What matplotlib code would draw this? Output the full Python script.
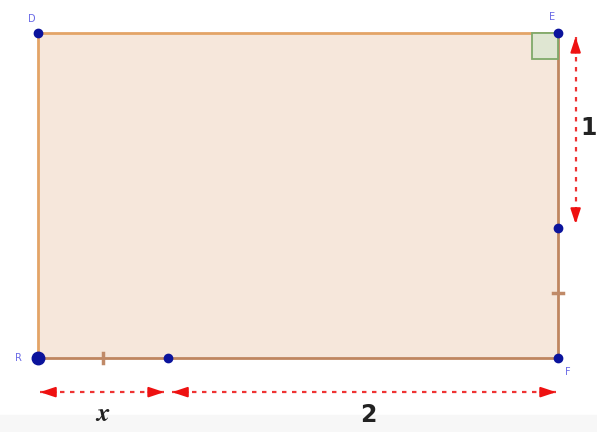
import numpy as np
import matplotlib.pyplot as plt
from matplotlib.patches import Rectangle

plt.rcParams['mathtext.fontset'] = 'stix'

# geometry in units: rectangle (2 + x) by (1 + x)
x = 0.667
base_len = 2
height_len = 1
point_names = ['R', 'F', 'E', 'D']
width = base_len + x
height = height_len + x
corners_x = [0, width, width, 0]
corners_y = [0, 0, height, height]
label_offsets = [(-0.1, 0.0), (0.05, -0.07), (-0.03, 0.08), (-0.03, 0.07)]

fig = plt.figure(figsize=(5.97, 4.32), dpi=100)
ax = fig.add_axes([0, 0, 1, 1])
unit = 195.0
ax.set_xlim(-38 / unit, (597 - 38) / unit)
ax.set_ylim(-(432 - 358) / unit, 358 / unit)
ax.axis('off')
fig.patch.set_facecolor('white')

# faint grey band at the bottom
ax.add_patch(Rectangle((-1, -1), 5, 1 - 0.29, color='#f7f7f7', zorder=0))

ax.add_patch(Rectangle((0, 0), width, height, facecolor='#f6e7db', edgecolor='none', zorder=1))
ax.plot([0, 0, width], [0, height, height], color='#e3a467', lw=2, zorder=2)
ax.plot([0, width, width], [0, 0, height], color='#bf8660', lw=2, zorder=2)

# right angle mark at E
s = 0.135
ax.add_patch(Rectangle((width - s, height - s), s, s, facecolor='#dfe6d2',
                       edgecolor='#7faa6a', lw=1.3, zorder=3))

# equal segment ticks
ax.plot([x / 2, x / 2], [-0.025, 0.025], color='#c08a68', lw=2.5, zorder=3)
ax.plot([width - 0.025, width + 0.025], [x / 2, x / 2], color='#c08a68', lw=2.5, zorder=3)

# points
ax.plot(corners_x[1:], corners_y[1:], 'o', color='#0b139c', ms=6, zorder=4)
ax.plot([0], [0], 'o', color='#0b139c', ms=9, zorder=4)
ax.plot([x, width], [0, x], 'o', color='#0b139c', ms=6, zorder=4)
for n, px, py, (dx, dy) in zip(point_names, corners_x, corners_y, label_offsets):
    ax.text(px + dx, py + dy, n, color='#6a6ae6', fontsize=7, ha='center', va='center', zorder=5)


# measurement arrows: dashed shaft + solid heads
def dim_arrow(p0, p1):
    p0 = np.array(p0)
    p1 = np.array(p1)
    ax.plot([p0[0], p1[0]], [p0[1], p1[1]], color='#ee3333', lw=1.6,
            linestyle=(0, (2, 2.5)), zorder=5)
    d = (p1 - p0) / np.linalg.norm(p1 - p0) * 0.08
    for tip, tail in ((p0, p0 + d), (p1, p1 - d)):
        ax.annotate('', xy=tip, xytext=tail,
                    arrowprops=dict(arrowstyle='-|>,head_length=0.9,head_width=0.3',
                                    color='#ee1111', lw=1.5, shrinkA=0, shrinkB=0),
                    zorder=6)


yb = -0.175
dim_arrow((0.01, yb), (x - 0.02, yb))
dim_arrow((x + 0.02, yb), (width - 0.01, yb))
dim_arrow((width + 0.09, height - 0.02), (width + 0.09, x + 0.02))

ax.text(x / 2, -0.285, r'$\boldsymbol{x}$', fontsize=19, ha='center', va='center',
        color='#222222')
ax.text(x + base_len / 2 + 0.025, -0.29, str(base_len), fontsize=17, ha='center',
        va='center', color='#222222', fontweight='bold')
ax.text(width + 0.155, 1.18, str(height_len), fontsize=17, ha='center',
        va='center', color='#222222', fontweight='bold')

fig.savefig('out.png', dpi=100)
